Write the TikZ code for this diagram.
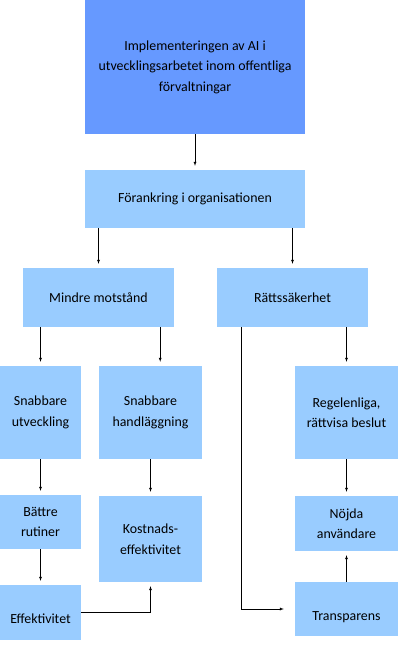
\documentclass[tikz,border=0pt]{standalone}
\usepackage{fontspec}
\setmainfont{Carlito}
\usepackage{tikz}
\definecolor{darkblue}{RGB}{102,153,255}
\definecolor{lightblue}{RGB}{153,204,255}

\begin{document}
\begin{tikzpicture}[x=1pt,y=-1pt,
  box/.style={fill=lightblue,inner sep=0pt,align=center,
    font=\fontsize{13.9}{20.5}\selectfont},
  arr/.style={-latex,thin,shorten >=4pt}]
\useasboundingbox (0,0) rectangle (403,646);
\node[box,fill=darkblue,minimum width=220pt,minimum height=134pt] (impl) at (195,67)
  {Implementeringen av AI i\\utvecklingsarbetet inom offentliga\\förvaltningar};
\node[box,minimum width=220pt,minimum height=58pt] (forank) at (195,199) {Förankring i organisationen};
\node[box,minimum width=151pt,minimum height=59pt] (mindre) at (98.5,297.5) {Mindre motstånd};
\node[box,minimum width=151pt,minimum height=59pt] (ratt) at (292.5,297.5) {Rättssäkerhet};
\node[box,minimum width=81pt,minimum height=93pt] (snabbU) at (40.5,412.5) {Snabbare\\utveckling};
\node[box,minimum width=103pt,minimum height=93pt] (snabbH) at (150.5,412.5) {Snabbare\\handläggning};
\node[box,minimum width=103pt,minimum height=93pt] (regel) at (346.5,412.5) {Regelenliga,\\rättvisa beslut};
\node[box,minimum width=81pt,minimum height=54pt] (battre) at (40.5,522) {Bättre\\rutiner};
\node[box,minimum width=103pt,minimum height=86pt] (kostn) at (150.5,539) {Kostnads-\\effektivitet};
\node[box,minimum width=81pt,minimum height=55pt,text height=22pt,text depth=0pt] (effekt) at (40.5,612.5) {Effektivitet};
\node[box,minimum width=103pt,minimum height=55pt] (nojda) at (346.5,523.5) {Nöjda\\användare};
\node[box,minimum width=103pt,minimum height=54pt,text height=22pt,text depth=0pt] (transp) at (346.5,609) {Transparens};
% pilar
\draw[arr] (impl) -- (forank);
\draw[arr] (forank.south -| mindre) -- (mindre);
\draw[arr] (forank.south -| ratt) -- (ratt);
\draw[arr] (mindre.south -| snabbU) -- (snabbU);
\draw[arr] ([xshift=-14pt]mindre.south east) -- ([xshift=-14pt]mindre.south east |- snabbH.north);
\draw[arr] (ratt.south -| regel) -- (regel);
\draw[arr] (snabbU) -- (battre);
\draw[arr] (battre) -- (effekt);
\draw[arr] (snabbH) -- (kostn);
\draw[arr] (effekt.east) -| (kostn.south);
\draw[arr] (regel) -- (nojda);
\draw[arr] (transp) -- (nojda);
\draw[arr,shorten >=11pt] ([xshift=24pt]ratt.south west) |- (transp.west);
\end{tikzpicture}
\end{document}
